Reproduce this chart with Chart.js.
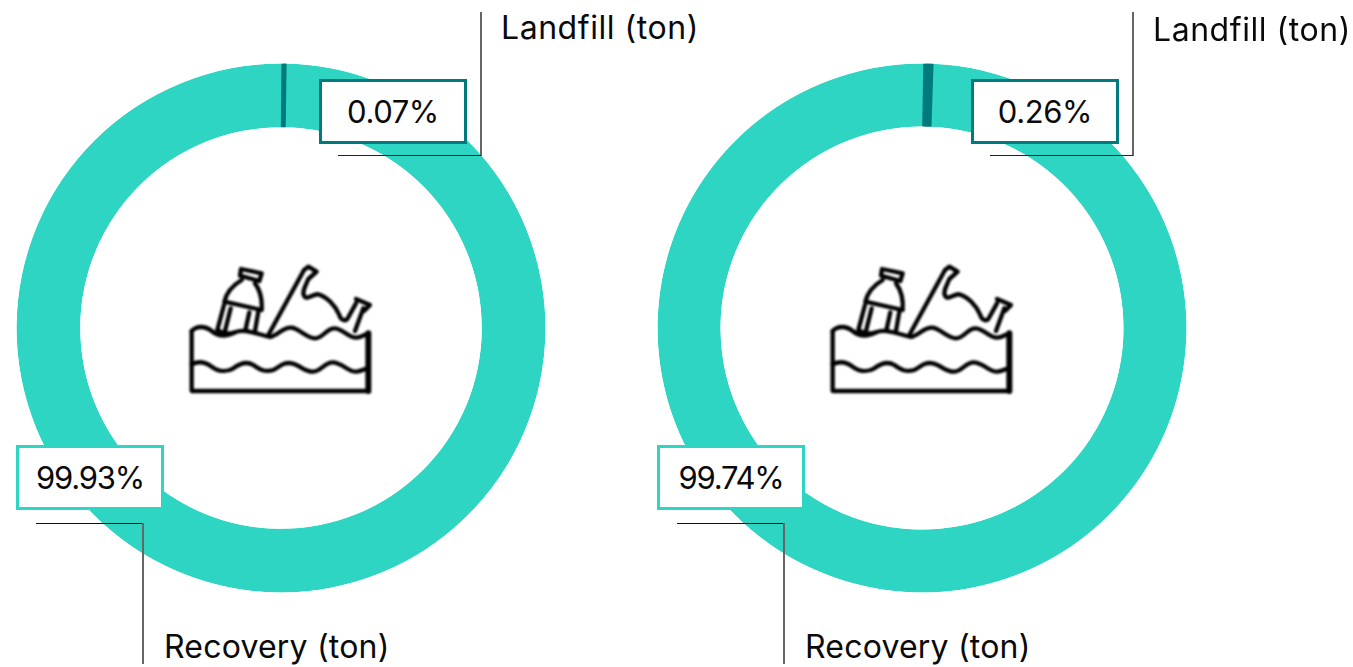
<!DOCTYPE html>
<html><head><meta charset="utf-8">
<script src="https://cdn.jsdelivr.net/npm/chart.js@4"></script>
<style>
html,body{margin:0;padding:0;background:#fff;overflow:hidden}
body{width:1353px;height:667px;position:relative;font-family:Inter,sans-serif;color:#0a0a0a}
canvas{position:absolute;top:48px;width:560px;height:560px}
.box{position:absolute;box-sizing:border-box;width:148px;height:65px;background:#fff;border:3px solid;display:flex;align-items:center;justify-content:center;font-size:31px}
.lbl{position:absolute;font-size:32px;line-height:36px;white-space:nowrap}
.ln{position:absolute;background:#333}
svg.icon{position:absolute;top:255px;width:200px;height:150px;filter:blur(.8px)}
</style></head><body>
<svg width="0" height="0" style="position:absolute"><defs>
<g id="waste" fill="none" stroke="#000" stroke-width="13" stroke-linejoin="round" stroke-linecap="round">
<path d="M35 228V408H565V235" />
<path d="M565 235V408" stroke-width="18"/>
<path d="M35 228C50 212 75 212 95 228C115 245 140 245 165 232C190 220 225 235 270 246C295 240 310 215 335 218C360 222 380 250 405 250C430 250 440 218 465 220C490 222 505 250 530 248C545 246 555 238 565 235"/>
<path d="M35 328C55 318 75 320 95 335C115 350 140 352 160 340C180 325 200 318 220 330C240 345 255 352 280 345C300 335 310 320 335 325C360 330 375 352 400 350C425 348 435 320 460 322C490 325 505 352 530 350C545 348 555 342 565 338"/>
<path d="M185 75C160 90 140 110 133 140L245 165C247 135 240 105 225 85"/>
<path d="M183 42L245 55L238 78L180 62Z"/>
<path d="M132 150L112 225M152 160L135 228M208 172L197 222M235 170L225 228M112 225C125 235 150 238 165 232"/>
<path d="M265 240L372 45L385 35L410 50L385 72C378 90 365 110 372 122C380 138 400 115 415 118C440 125 465 150 478 180C482 195 495 200 502 192L528 145M525 228L550 160M528 132L570 150L552 168"/>
</g></defs></svg>
<svg class="icon" style="left:180px" viewBox="0 0 600 450"><use href="#waste"/></svg>
<svg class="icon" style="left:821px" viewBox="0 0 600 450"><use href="#waste"/></svg>
<canvas id="c0" width="560" height="560" style="left:1px"></canvas>
<canvas id="c1" width="560" height="560" style="left:642px"></canvas>
<script>
const categories = ['Recovery (ton)', 'Landfill (ton)'];
const recoveryValues = [99.93, 99.74];
const landfillValues = [0.07, 0.26];
const chartColors = ['#2ed5c2', '#007a7c'];
const startAngles = [0.78, 1.85];
const landfillBorders = [4, 6];
const xShift = [0, 641];
const rightLabelShift = [0, 652];
const rightBoxShift = [0, 652];

const ringClip = {
  id: 'ringClip',
  beforeDatasetsDraw(chart) {
    const a = chart.getDatasetMeta(0).data[0], c = chart.ctx;
    c.save(); c.beginPath();
    c.arc(a.x, a.y, a.outerRadius, 0, Math.PI * 2);
    c.arc(a.x, a.y, a.innerRadius, 0, Math.PI * 2, true);
    c.clip();
  },
  afterDatasetsDraw(chart) { chart.ctx.restore(); }
};

function add(cls, css, text) {
  const d = document.createElement('div');
  d.className = cls; d.style.cssText = css;
  if (text) d.textContent = text;
  document.body.appendChild(d);
}
[0, 1].forEach(i => {
  new Chart(document.getElementById('c' + i), {
    type: 'doughnut',
    plugins: [ringClip],
    data: { labels: categories, datasets: [{
      data: [recoveryValues[i], landfillValues[i]],
      backgroundColor: chartColors,
      borderColor: chartColors,
      borderWidth: [0, landfillBorders[i]],
      hoverOffset: 0
    }]},
    options: {
      responsive: false, animation: false,
      radius: 264.5, cutout: 211, rotation: startAngles[i],
      events: [],
      layout: { padding: 0 },
      plugins: { legend: { display: false }, tooltip: { enabled: false } }
    }
  });
  const s = xShift[i], t = rightBoxShift[i], u = rightLabelShift[i];
  add('ln', `left:${480 + t}px;top:12px;width:2px;height:144px;background:#666`);
  add('ln', `left:${338 + t}px;top:155px;width:143px;height:1px;background:#222`);
  add('ln', `left:${36 + s}px;top:523px;width:107px;height:1px;background:#111`);
  add('ln', `left:${142 + s}px;top:523px;width:2px;height:141px;background:#666`);
  add('box', `left:${319 + t}px;top:79px;border-color:${chartColors[1]};letter-spacing:-.4px`, landfillValues[i].toFixed(2) + '%');
  add('box', `left:${16 + s}px;top:445px;border-color:${chartColors[0]};letter-spacing:-1.2px`, recoveryValues[i].toFixed(2) + '%');
  add('lbl', `left:${501 + u}px;top:${i ? 12 : 10}px;letter-spacing:.55px`, categories[1]);
  add('lbl', `left:${164 + s}px;top:629px;letter-spacing:.2px`, categories[0]);
});
</script>
</body></html>
